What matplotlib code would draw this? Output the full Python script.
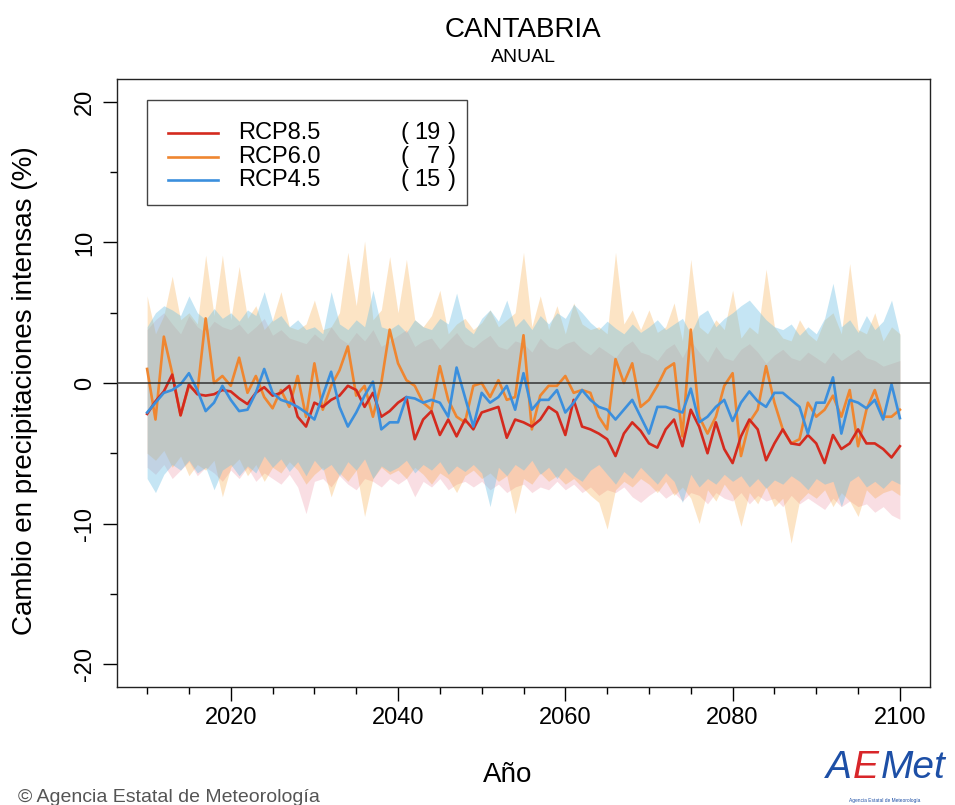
import numpy as np
import matplotlib
matplotlib.use('Agg')
import matplotlib.pyplot as plt
from matplotlib.lines import Line2D
from matplotlib.patches import Rectangle

plt.rcParams['font.family'] = ['Liberation Sans', 'DejaVu Sans']

# --- data ---
years = list(range(2010, 2101))

rcp85_mean = [-2.2, -1.3, -0.6, 0.6, -2.3, -0.1, -0.8, -0.9, -0.8, -0.5,
              -0.6, -1.1, -1.5, -0.7, -0.3, -0.9, -0.7, -0.2, -2.4, -3.1,
              -1.4, -1.7, -1.2, -0.9, -0.2, -0.5, -1.7, -0.7, -2.4, -2.0,
              -1.4, -1.0, -4.0, -2.6, -2.0, -3.7, -2.6, -3.8, -2.6, -3.3,
              -2.1, -1.9, -1.7, -3.9, -2.6, -2.8, -3.1, -2.6, -1.7, -2.1,
              -3.7, -1.2, -3.1, -3.3, -3.6, -4.0, -5.2, -3.6, -2.8, -3.4,
              -4.3, -4.6, -3.3, -2.6, -4.5, -1.9, -3.1, -5.0, -2.8, -4.7,
              -5.7, -3.8, -2.6, -3.3, -5.5, -4.3, -3.3, -4.3, -4.4, -3.7,
              -4.3, -5.7, -3.7, -4.7, -4.3, -3.3, -4.3, -4.3, -4.7, -5.3,
              -4.5]
rcp85_max = [3.8, 4.5, 5.0, 4.2, 3.5, 4.8, 4.0, 3.6, 4.4, 4.0,
             3.8, 4.2, 3.5, 4.0, 4.6, 3.4, 3.8, 3.2, 3.0, 2.8,
             3.5, 3.0, 4.0, 3.2, 2.8, 3.6, 3.0, 3.8, 2.6, 3.0,
             3.4, 3.8, 2.6, 3.0, 3.2, 2.4, 3.0, 3.6, 2.8, 2.5,
             3.0, 3.4, 2.6, 2.4, 3.0, 2.8, 2.2, 3.2, 2.6, 2.4,
             2.8, 3.0, 2.4, 2.0, 2.6, 2.2, 1.8, 2.6, 3.0, 2.2,
             2.0, 1.6, 2.4, 2.8, 1.8, 3.0, 2.2, 1.5, 2.6, 1.8,
             1.6, 2.4, 2.8, 2.2, 1.4, 2.0, 2.4, 1.8, 1.6, 2.2,
             1.8, 1.4, 2.2, 1.6, 2.0, 2.4, 1.8, 1.6, 1.2, 1.4,
             1.6]
rcp85_min = [-6.0, -6.5, -5.8, -6.8, -6.2, -5.6, -6.6, -6.0, -6.4, -7.0,
             -6.2, -6.8, -6.0, -7.0, -6.4, -6.8, -7.2, -6.5, -7.4, -9.3,
             -7.0, -6.8, -7.4, -6.6, -7.2, -7.6, -6.8, -7.0, -7.4, -6.8,
             -7.2, -6.8, -8.1, -7.0, -7.4, -6.8, -7.6, -7.2, -7.0, -7.4,
             -7.0, -7.6, -7.2, -7.8, -7.4, -7.2, -7.8, -7.4, -7.6, -7.0,
             -7.6, -7.2, -7.8, -7.4, -8.0, -7.6, -7.8, -7.4, -8.1, -8.5,
             -8.0, -7.6, -8.2, -7.8, -8.4, -7.8, -8.0, -8.6, -7.8, -8.2,
             -8.4, -7.8, -8.6, -8.0, -8.4, -8.2, -8.8, -8.0, -8.6, -8.2,
             -8.6, -9.0, -8.2, -8.8, -8.4, -8.8, -8.6, -9.2, -8.8, -9.4,
             -9.7]

rcp60_mean = [1.0, -2.6, 3.3, 0.7, -2.3, -0.2, -0.7, 4.6, 0.0, 0.5,
              -0.2, 1.8, -0.7, 0.5, -1.0, -1.8, -0.5, -1.7, 0.5, -2.4,
              1.4, -1.9, -0.2, 0.9, 2.6, -0.9, -0.2, -2.4, 0.0, 3.8,
              1.4, 0.2, -0.2, -1.4, -1.9, 1.2, -1.2, -2.4, -2.8, -0.2,
              0.0, -1.0, 0.2, -1.2, -1.0, 3.4, -3.3, -0.9, -0.2, -0.2,
              0.5, -0.7, -0.5, -0.7, -2.4, -3.3, 1.7, 0.0, 1.4, -1.7,
              -1.2, -0.2, 1.0, 1.4, -3.8, 3.8, -2.4, -3.6, -2.4, -0.2,
              0.7, -5.2, -2.8, -1.9, 1.2, -1.4, -3.3, -4.3, -4.0, -1.4,
              -2.4, -1.9, -0.9, -2.4, -0.5, -4.5, -1.9, -0.5, -2.4, -2.4,
              -1.9]
rcp60_max = [6.2, 3.5, 4.8, 7.6, 4.5, 5.0, 4.2, 9.1, 4.8, 9.1,
             4.5, 8.3, 4.6, 5.5, 3.8, 4.5, 6.5, 4.0, 3.8, 4.2,
             5.9, 3.8, 4.0, 5.0, 9.3, 5.5, 10.1, 4.5, 5.2, 9.0,
             5.0, 8.8, 4.5, 4.0, 4.8, 6.6, 3.5, 4.2, 4.6, 3.8,
             4.3, 5.2, 4.0, 4.5, 5.0, 9.3, 4.0, 6.2, 3.8, 5.5,
             3.5, 5.7, 4.2, 3.8, 4.0, 3.5, 9.3, 4.2, 5.2, 3.8,
             5.2, 3.6, 4.0, 5.7, 3.0, 8.8, 4.0, 3.5, 4.5, 3.8,
             6.6, 3.2, 4.0, 3.5, 8.1, 4.0, 3.2, 3.0, 4.5, 3.5,
             3.0, 4.5, 5.0, 3.5, 8.5, 3.8, 3.5, 5.0, 3.0, 4.0,
             3.5]
rcp60_min = [-5.0, -5.5, -4.8, -6.0, -5.2, -6.6, -5.8, -6.2, -5.5, -8.1,
             -6.0, -5.4, -6.6, -5.8, -7.0, -6.0, -6.4, -5.6, -6.2, -7.2,
             -6.5, -6.0, -8.1, -6.4, -7.0, -6.2, -9.5, -6.8, -6.0, -6.5,
             -6.2, -6.8, -6.0, -6.5, -7.2, -6.4, -6.8, -7.8, -6.6, -6.2,
             -6.8, -6.4, -7.0, -6.6, -9.3, -6.8, -7.2, -6.4, -7.0, -6.6,
             -7.2, -6.8, -7.4, -8.0, -8.5, -10.4, -7.6, -7.0, -7.4, -6.8,
             -7.2, -7.8, -7.0, -8.0, -7.4, -8.2, -10.0, -7.6, -8.4, -7.2,
             -8.0, -10.2, -7.8, -8.6, -7.4, -8.8, -8.2, -11.4, -8.4, -7.8,
             -8.2, -7.6, -8.8, -7.8, -8.4, -9.5, -7.6, -8.2, -7.8, -7.6,
             -8.0]

rcp45_mean = [-2.1, -1.4, -0.7, -0.5, -0.1, 0.7, -0.5, -2.0, -1.4, -0.2,
              -1.2, -2.0, -1.9, -0.7, 1.0, -0.7, -1.2, -1.4, -1.7, -2.1,
              -2.6, -0.9, 0.8, -1.7, -3.1, -2.1, -0.9, 0.1, -3.3, -2.8,
              -2.8, -1.0, -1.1, -1.4, -1.2, -1.4, -2.4, 1.1, -1.0, -3.1,
              -0.7, -1.4, -1.0, -0.2, -1.9, 0.7, -1.9, -1.2, -1.2, -0.5,
              -2.1, -1.4, -0.5, -1.2, -1.7, -1.9, -2.6, -1.9, -1.2, -2.4,
              -3.6, -1.7, -1.7, -1.9, -2.1, -0.4, -2.8, -2.4, -1.7, -1.2,
              -2.7, -1.4, -0.6, -1.3, -1.7, -0.7, -0.7, -1.2, -1.7, -3.6,
              -1.4, -1.4, 0.4, -3.6, -1.2, -1.4, -1.8, -1.2, -2.6, -0.1,
              -2.5]
rcp45_max = [4.0, 5.0, 5.5, 5.2, 4.8, 6.2, 5.0, 4.5, 5.3, 4.6,
             5.0, 4.4, 5.2, 4.8, 6.5, 4.4, 4.8, 4.0, 4.5, 3.8,
             4.0, 3.5, 6.5, 4.2, 3.8, 4.5, 4.0, 6.6, 4.0, 3.8,
             4.2, 3.6, 4.5, 4.0, 3.8, 4.6, 4.2, 6.4, 4.0, 3.5,
             4.6, 5.2, 4.4, 5.9, 4.0, 4.6, 3.8, 4.8, 4.2, 5.0,
             4.6, 5.6, 5.0, 4.3, 3.8, 4.4, 3.9, 3.5, 4.2, 3.6,
             4.0, 4.5, 3.8, 4.2, 4.6, 3.5, 4.8, 5.2, 4.0, 4.6,
             5.0, 5.5, 5.9, 5.2, 4.5, 4.0, 3.8, 4.2, 3.4, 4.0,
             3.5, 4.6, 7.1, 4.0, 4.5, 3.6, 4.8, 3.8, 4.4, 5.9,
             3.4]
rcp45_min = [-6.8, -7.8, -6.5, -5.8, -6.2, -5.5, -6.4, -6.0, -7.6, -6.2,
             -5.8, -6.6, -5.9, -6.4, -5.2, -6.0, -5.4, -6.3, -5.6, -6.6,
             -5.5, -6.2, -5.8, -6.6, -5.6, -6.2, -5.4, -6.8, -5.9, -6.3,
             -6.0, -5.5, -6.4, -5.8, -6.2, -5.6, -6.5, -5.9, -6.3, -5.8,
             -6.4, -8.8, -6.0, -6.6, -5.8, -6.2, -5.5, -6.5, -6.0, -6.8,
             -6.0, -6.6, -7.0, -6.2, -5.8, -6.5, -7.2, -6.3, -6.8, -6.0,
             -6.6, -7.2, -6.4, -7.0, -8.5, -6.5, -7.4, -6.8, -7.2, -6.5,
             -7.0, -6.6, -7.4, -6.8, -7.5, -6.9, -7.2, -6.6, -7.0, -7.6,
             -6.8, -7.2, -7.0, -8.8, -7.0, -6.6, -7.4, -7.0, -7.5, -6.9,
             -7.2]

scenarios = ['RCP8.5', 'RCP6.0', 'RCP4.5']
n_models = [19, 7, 15]
line_colors = ['#d42a1e', '#ef8630', '#3b8fdd']
band_colors = ['#e55c76', '#f7a032', '#6ec0e4']
band_alpha = [0.2, 0.28, 0.4]

W, H = 955, 805


def fx(x):
    return x / W


def fy(y):
    return 1 - y / H


fig = plt.figure(figsize=(W / 100, H / 100), dpi=100)
ax = fig.add_axes([fx(117), fy(686.5), fx(930) - fx(117), fy(79.5) - fy(686.5)])

means = [rcp85_mean, rcp60_mean, rcp45_mean]
lows = [rcp85_min, rcp60_min, rcp45_min]
highs = [rcp85_max, rcp60_max, rcp45_max]

# bands first
for lo, hi, c, a in zip(lows, highs, band_colors, band_alpha):
    ax.fill_between(years, lo, hi, color=c, alpha=a, lw=0, zorder=1)

# ensemble means: orange under, then red, then blue
for i in [1, 0, 2]:
    ax.plot(years, means[i], color=line_colors[i], lw=1.9, zorder=3)

ax.axhline(0, color='#333333', lw=1.1, zorder=4)

ax.set_xlim(2006.4, 2103.6)
ax.set_ylim(-21.6, 21.6)

ax.set_xticks([2020, 2040, 2060, 2080, 2100])
ax.set_xticks(list(range(2010, 2101, 5)), minor=True)
ax.set_yticks([-20, -10, 0, 10, 20])
ax.set_yticklabels(['-20', '-10', '0', '10', '20'], rotation=90, va='center')
ax.set_yticks([-15, -5, 5, 15], minor=True)
ax.tick_params(which='major', length=10, width=1, direction='out', labelsize=17, pad=5)
ax.tick_params(which='minor', length=5, width=1, direction='out')
for s in ax.spines.values():
    s.set_linewidth(1)
    s.set_color('#222222')

# titles and axis labels
fig.text(fx(523), fy(30), 'CANTABRIA', ha='center', va='center', fontsize=20)
fig.text(fx(523), fy(58), 'ANUAL', ha='center', va='center', fontsize=14)
fig.text(fx(25), fy(391), 'Cambio en precipitaciones intensas (%)', rotation=90,
         ha='center', va='center', fontsize=20)
fig.text(fx(508), fy(775), 'Año', ha='center', va='center', fontsize=20)

# legend
fig.patches.append(Rectangle((fx(147), fy(205)), fx(467) - fx(147), fy(100) - fy(205),
                             transform=fig.transFigure, fill=True, facecolor='white',
                             edgecolor='#444444', lw=1, zorder=5))
row_y = [133, 157, 180]
for name, n, c, yy in zip(scenarios, n_models, line_colors, row_y):
    fig.lines.append(Line2D([fx(168), fx(218)], [fy(yy), fy(yy)], color=c, lw=1.9,
                            transform=fig.transFigure, zorder=6))
    fig.text(fx(238), fy(yy), name, ha='left', va='center', fontsize=17, zorder=6)
    fig.text(fx(400), fy(yy), '(', ha='left', va='center', fontsize=17, zorder=6)
    fig.text(fx(440), fy(yy), str(n), ha='right', va='center', fontsize=17, zorder=6)
    fig.text(fx(456), fy(yy), ')', ha='right', va='center', fontsize=17, zorder=6)

# credits and logo
fig.text(fx(18), fy(797), '© Agencia Estatal de Meteorología', ha='left', va='center',
         fontsize=14, color='#555555')
fig.text(fx(826), fy(768), 'A', ha='left', va='center', fontsize=28, color='#1d4fa6',
         style='italic')
fig.text(fx(853), fy(768), 'E', ha='left', va='center', fontsize=28, color='#d8262a',
         style='italic')
fig.text(fx(881), fy(768), 'Met', ha='left', va='center', fontsize=28, color='#1d4fa6',
         style='italic')
fig.text(fx(885), fy(800), 'Agencia Estatal de Meteorología', ha='center', va='center',
         fontsize=3.5, color='#1d4fa6')

fig.savefig('out.png', dpi=100)
